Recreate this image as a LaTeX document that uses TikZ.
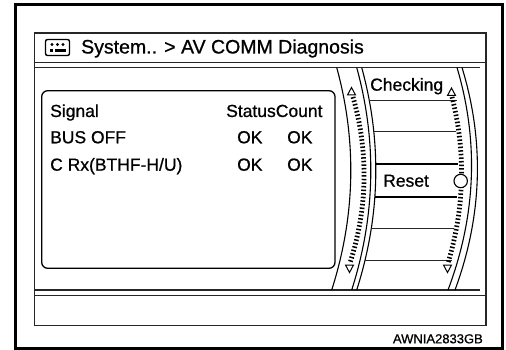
\documentclass[tikz,border=0pt]{standalone}
\usepackage{fontspec}
\setmainfont{Liberation Sans}[FakeBold=0.8]
\usetikzlibrary{calc}
\begin{document}
\begin{tikzpicture}[x=1pt,y=-1pt,
  frame/.style={line width=1.1pt,draw=black!85},
  curv/.style={line width=1.1pt,draw=black},
  thinrow/.style={line width=1.0pt,draw=black!85},
  thickrow/.style={line width=2.0pt,draw=black},
  ticks/.style={line width=4.8pt,draw=black,dash pattern=on 1.5pt off 2.1pt},
  tri/.style={line width=1pt,draw=black,fill=white},
  txt/.style={font=\fontsize{17.5}{20}\selectfont,anchor=base west,inner sep=0pt},
  ttl/.style={font=\fontsize{19.5}{22}\selectfont,anchor=base west,inner sep=0pt},
  code/.style={font=\fontsize{13}{15}\selectfont,anchor=base east,inner sep=0pt}]
\useasboundingbox (0,0) rectangle (506,350);
\newcommand{\bowcurve}[4][curv]{%
  \draw[#1] (#2) .. controls ($(#2)!1/3!(#3)+(#4,0)$) and ($(#2)!2/3!(#3)+(#4,0)$) .. (#3);}
% outer border
\draw[line width=2.7pt] (15.3,4.6) rectangle (502.3,348.6);
% screen frame
\draw[frame] (34.5,33) rectangle (486,325.7);
\draw[frame] (34.5,62.3) -- (486,62.3);
\draw[frame] (34.5,67.5) -- (480,67.5);
\draw[frame] (34.5,290) -- (480,290);
\draw[frame] (34.5,295.7) -- (486,295.7);
% header icon
\draw[line width=1.4pt,rounded corners=2pt] (45.5,39.5) rectangle (69.5,55.5);
\fill (52,44.5) circle (1.6) (57.5,44.5) circle (1.6) (63,44.5) circle (1.6);
\fill (50,49) rectangle (53,52.5);
\fill (55,49) rectangle (66,52.5);
\node[ttl] (title) at (81,53.5) {System.. > AV COMM Diagnosis};
% data box
\draw[line width=1.3pt,rounded corners=6pt] (41.7,90.7) rectangle (335,268.3);
\node[txt] (sig) at (50,117) {Signal};
\node[txt] (sc) at (226,117) {StatusCount};
\node[txt] (bus) at (50,143.3) {BUS OFF};
\node[txt] (ok1) at (237,143.3) {OK};
\node[txt] (ok2) at (287,143.3) {OK};
\node[txt] (crx) at (50,170.7) {C Rx(BTHF-H/U)};
\node[txt] (ok3) at (237,170.7) {OK};
\node[txt] (ok4) at (287,170.7) {OK};
% curved bands
\bowcurve{336.7,67.5}{331.7,290}{22}
\bowcurve{356.7,67.5}{351.7,290}{22}
\bowcurve{361.7,67.5}{356.7,290}{22}
\bowcurve{457,67.5}{448,290}{25}
\bowcurve{462,67.5}{455,290}{25}
% button rows
\draw[thinrow] (369.3,100.7) -- (457,100.7);
\draw[thinrow] (373.8,131.7) -- (456,131.7);
\draw[thickrow] (375.7,164) -- (458,164);
\draw[thickrow] (374.9,196.7) -- (457,196.7);
\draw[thinrow] (371.3,228.3) -- (454,228.3);
\draw[thinrow] (365,260.7) -- (452,260.7);
% scales
\bowcurve[ticks]{353,97}{350,263}{16.7}
\bowcurve[ticks]{452,97}{448,263}{15.3}
\draw[tri] (347.5,95) -- (355.5,95) -- (351.5,87.5) -- cycle;
\draw[tri] (345.5,265) -- (353.5,265) -- (349.5,272.5) -- cycle;
\draw[tri] (447.5,95.5) -- (455.5,95.5) -- (451.5,88) -- cycle;
\draw[tri] (443.5,265) -- (451.5,265) -- (447.5,272.5) -- cycle;
\draw[line width=1.1pt,fill=white] (460.7,181) circle (6.7);
\node[txt] (chk) at (370,90.7) {Checking};
\node[txt] (rst) at (383,186.7) {Reset};
\node[code] (id) at (483,343.3) {AWNIA2833GB};
\end{tikzpicture}
\end{document}
